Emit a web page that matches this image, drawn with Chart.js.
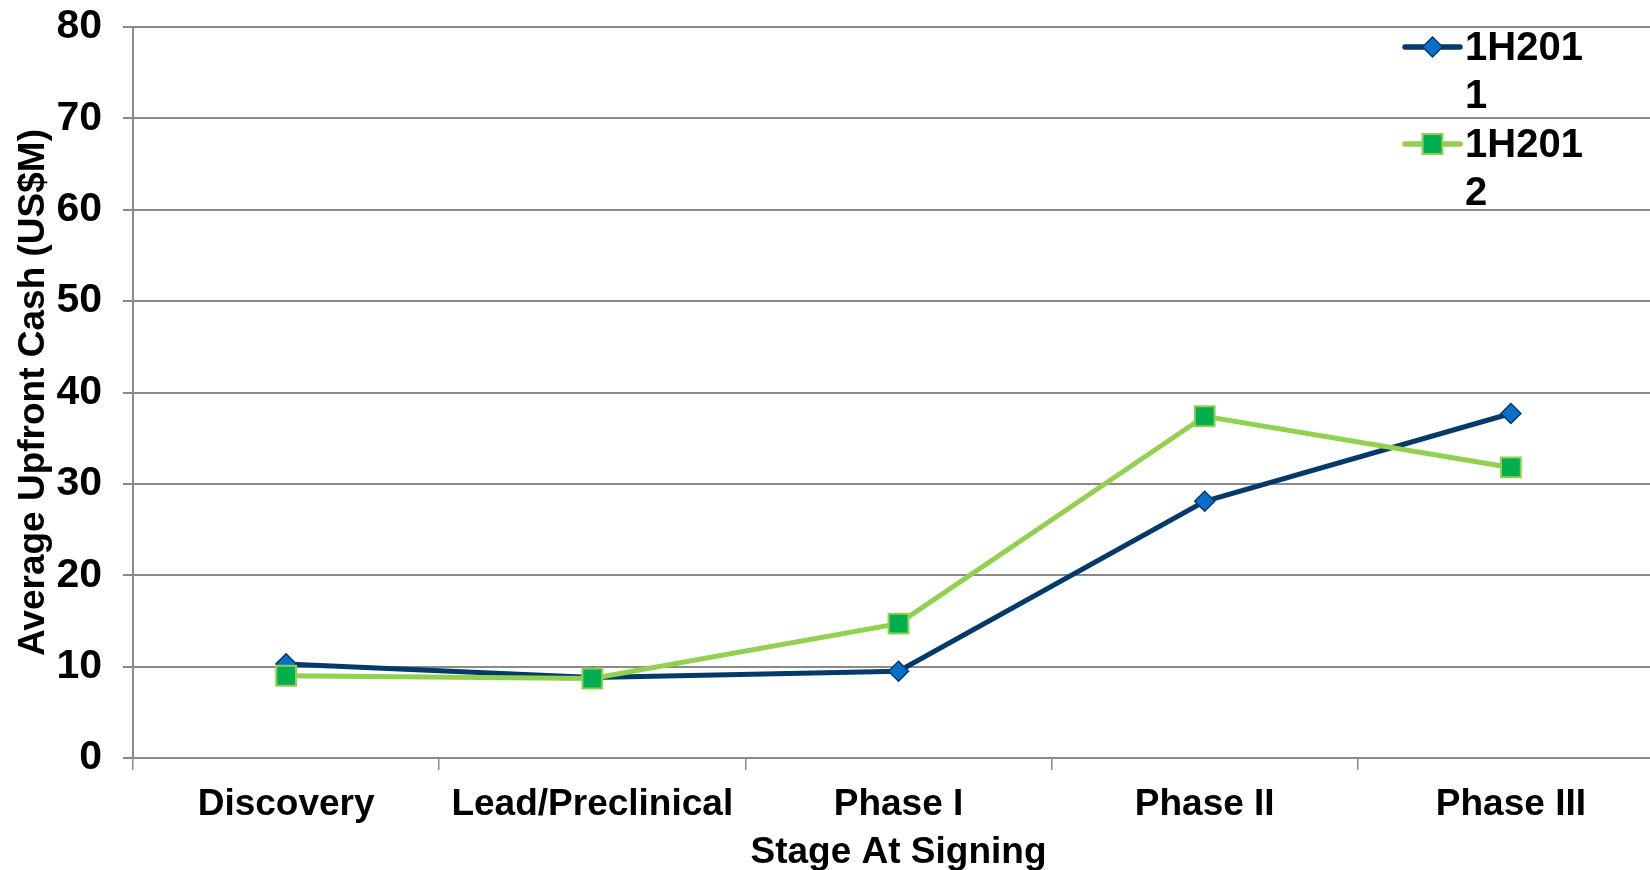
<!DOCTYPE html>
<html>
<head>
<meta charset="utf-8">
<title>Average Upfront Cash by Stage At Signing</title>
<script src="https://cdn.jsdelivr.net/npm/chart.js@4.4.1/dist/chart.umd.min.js"></script>
<style>
  html, body { margin: 0; padding: 0; background: #ffffff; overflow: hidden; }
  #wrap { width: 1664px; height: 870px; }
</style>
</head>
<body>
<div id="wrap"><canvas id="chart" width="1664" height="870"></canvas></div>
<script>
// Stages of the deal at signing
const categories = ['Discovery', 'Lead/Preclinical', 'Phase I', 'Phase II', 'Phase III'];

// Average upfront cash, US$M
const upfront1H2011 = [10.3, 8.8, 9.5, 28.1, 37.7];
const upfront1H2012 = [9.0, 8.7, 14.7, 37.4, 31.8];

// Value axis
const yMin = 0;
const yMax = 80;
const yStep = 10;

const seriesNames = ['1H2011', '1H2012'];

const FONT = "'Liberation Sans', Arial, sans-serif";
const GRID = '#8a8a8a';
const NAVY = '#033a6a';
const BLUE = '#0a6fc8';
const LIME = '#92d050';
const GREEN = '#00b050';

// Wraps a label character by character to fit a narrow legend column
function wrapChars(ctx, text, maxWidth) {
  const lines = [];
  let cur = '';
  for (const ch of text) {
    if (cur && ctx.measureText(cur + ch).width > maxWidth) {
      lines.push(cur);
      cur = ch;
    } else {
      cur += ch;
    }
  }
  if (cur) lines.push(cur);
  return lines;
}

function markerPath(ctx, style, x, y, r) {
  ctx.beginPath();
  if (style === 'rectRot') {
    ctx.moveTo(x - r, y);
    ctx.lineTo(x, y - r);
    ctx.lineTo(x + r, y);
    ctx.lineTo(x, y + r);
  } else {
    const h = r * Math.SQRT1_2;
    ctx.rect(x - h, y - h, 2 * h, 2 * h);
  }
  ctx.closePath();
}

// Legend drawn inside the upper right of the plot, over the gridlines
const cornerLegend = {
  id: 'cornerLegend',
  afterDraw(chart) {
    const ctx = chart.ctx;
    const lineStart = 1405, lineEnd = 1460, textX = 1465;
    const firstBaseline = 60, lineGap = 48;
    let baseline = firstBaseline;
    ctx.save();
    ctx.font = 'bold 40px ' + FONT;
    chart.data.datasets.forEach((ds) => {
      const my = baseline - 13;
      ctx.strokeStyle = ds.borderColor;
      ctx.lineWidth = ds.borderWidth + 0.5;
      ctx.lineCap = 'round';
      ctx.beginPath();
      ctx.moveTo(lineStart, my);
      ctx.lineTo(lineEnd, my);
      ctx.stroke();
      ctx.lineCap = 'butt';
      markerPath(ctx, ds.pointStyle, (lineStart + lineEnd) / 2, my, ds.pointRadius);
      ctx.fillStyle = ds.pointBackgroundColor;
      ctx.fill();
      ctx.lineWidth = ds.pointBorderWidth;
      ctx.strokeStyle = ds.pointBorderColor;
      ctx.stroke();
      ctx.fillStyle = '#000000';
      ctx.textAlign = 'left';
      ctx.textBaseline = 'alphabetic';
      const lines = wrapChars(ctx, ds.label, 130);
      lines.forEach((ln, k) => ctx.fillText(ln, textX, baseline + k * lineGap));
      baseline += lines.length * lineGap + 1;
    });
    ctx.restore();
  }
};

const ctx = document.getElementById('chart').getContext('2d');
new Chart(ctx, {
  type: 'line',
  data: {
    labels: categories,
    datasets: [
      {
        label: seriesNames[0],
        data: upfront1H2011,
        borderColor: NAVY,
        borderWidth: 5,
        pointStyle: 'rectRot',
        pointRadius: 10,
        pointHoverRadius: 10,
        pointBackgroundColor: BLUE,
        pointBorderColor: NAVY,
        pointBorderWidth: 1.5,
        tension: 0,
        order: 1
      },
      {
        label: seriesNames[1],
        data: upfront1H2012,
        borderColor: LIME,
        borderWidth: 5,
        pointStyle: 'rect',
        pointRadius: 14,
        pointHoverRadius: 14,
        pointBackgroundColor: GREEN,
        pointBorderColor: LIME,
        pointBorderWidth: 2,
        tension: 0,
        order: 0
      }
    ]
  },
  options: {
    responsive: false,
    animation: false,
    events: [],
    layout: { autoPadding: false, padding: { top: 27, right: 0, bottom: 0, left: 0 } },
    plugins: {
      legend: { display: false },
      tooltip: { enabled: false },
      title: { display: false }
    },
    scales: {
      x: {
        type: 'category',
        offset: true,
        afterFit(scale) { scale.height = 112; },
        grid: {
          offset: true,
          drawOnChartArea: false,
          drawTicks: true,
          tickLength: 12,
          color: GRID,
          lineWidth: 1.5
        },
        border: { display: true, color: GRID, width: 2 },
        ticks: {
          color: '#000000',
          padding: 13,
          maxRotation: 0,
          autoSkip: false,
          font: { family: FONT, size: 37, weight: 'bold', lineHeight: 1.2 }
        },
        title: {
          display: true,
          text: 'Stage At Signing',
          color: '#000000',
          padding: { top: 0, bottom: 0 },
          font: { family: FONT, size: 37, weight: 'bold', lineHeight: 0.95 }
        }
      },
      y: {
        min: yMin,
        max: yMax,
        afterFit(scale) { scale.width = 133; },
        grid: {
          color: GRID,
          lineWidth: 2,
          drawTicks: true,
          tickLength: 10
        },
        border: { display: true, color: GRID, width: 2 },
        ticks: {
          stepSize: yStep,
          color: '#000000',
          padding: 21,
          // single-line labels; a tight line box keeps the top gridline close to the edge
          font: { family: FONT, size: 41, weight: 'bold', lineHeight: 0.2 }
        },
        title: {
          display: true,
          text: 'Average Upfront Cash (US$M)',
          color: '#000000',
          padding: { top: 15, bottom: 0 },
          font: { family: FONT, size: 37, weight: 'bold', lineHeight: 1 }
        }
      }
    }
  },
  plugins: [cornerLegend]
});
</script>
</body>
</html>
